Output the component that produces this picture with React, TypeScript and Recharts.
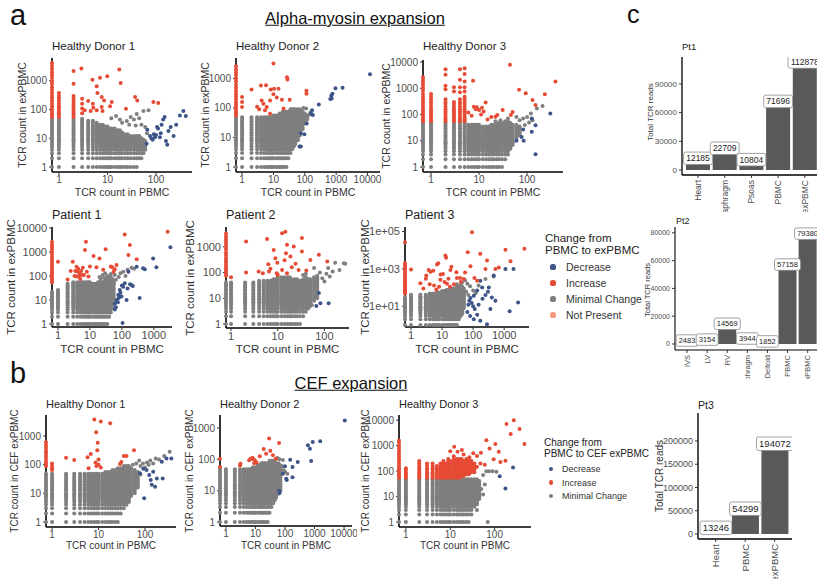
import React from 'react';
import { ScatterChart, Scatter, XAxis, YAxis, BarChart, Bar, LabelList } from 'recharts';

const FONT = '"Liberation Sans", Arimo, Arial, sans-serif';
const RED = '#E64B35';
const BLUE = '#3C5488';
const GREY = '#7F7F7F';
const PINK = '#F39B7F';
const BAR = '#595959';
const TICK = '#4D4D4D';

type Col = [number, number, number]; // x, lowest count, highest count (a stacked column of clones)
type Pt = [number, number]; // x = count in PBMC (0 = absent), y = count in expanded PBMC

// count levels at which clones are stacked in a dense column
const countLevels = [1, 2, 3, 4, 5, 6, 7, 8, 9, 10, 12, 14, 16, 19, 22, 26, 30, 35, 41, 48, 55, 65, 75, 90, 110, 130, 160, 200, 250, 300, 380, 480, 600, 800, 1000, 1300, 1600, 2000, 2600, 3300, 4200, 5500, 7000, 9000, 12000, 16000, 21000, 27000];

// tick values and labels
const ticks3 = [1, 10, 100];
const ticks4 = [1, 10, 100, 1000];
const ticks5 = [1, 10, 100, 1000, 10000];
const labels5 = ['1', '10', '100', '1000', '10000'];
const p3YTicks = [10, 1000, 100000];
const p3YTickLabels = ['1e+01', '1e+03', '1e+05'];

// ---------- a: Alpha-myosin, Healthy Donor 1 ----------
const hd1aGreyCols: Col[] = [[0, 1, 48], [1, 1, 48], [2, 1, 48], [3, 1, 48], [4, 1, 41], [5, 1, 41], [6, 1, 35], [7, 1, 30], [8, 1, 30], [9, 1, 26], [10, 1, 26], [11, 1, 22], [12, 1, 22], [14, 1, 22], [16, 1, 19], [18, 1, 19], [20, 1, 16], [23, 1, 14], [26, 1, 14], [30, 1, 12], [35, 1, 12], [40, 1, 12], [45, 2, 12], [50, 2, 10], [55, 3, 9], [60, 4, 8]];
const hd1aGreyPts: Pt[] = [[20, 35], [25, 40], [30, 55], [35, 45], [40, 70], [45, 50], [55, 90], [70, 95], [28, 30], [18, 45], [15, 60], [12, 50], [38, 28], [60, 25], [50, 30], [65, 15]];
const hd1aRedCols: Col[] = [[0, 55, 4200], [1, 55, 380], [2, 55, 300]];
const hd1aRedPts: Pt[] = [[2, 2200], [2, 800], [2.9, 2700], [3, 240], [3, 160], [3, 110], [3, 75], [3.4, 95], [4.9, 1100], [6, 650], [6.2, 380], [7, 1300], [7.6, 275], [8.5, 210], [9.9, 1450], [5.1, 117], [6, 95], [7.6, 123], [7.9, 90], [11.3, 130], [12.2, 185], [17.5, 2500], [18.7, 850], [24, 108], [37, 275], [41, 210], [88, 185], [111, 170], [4, 200], [5, 160], [4.5, 90]];
const hd1aBluePts: Pt[] = [[66, 20], [64, 6.5], [75, 12], [80, 10], [85, 9], [90, 14], [95, 11], [100, 13], [105, 25], [110, 22], [120, 11], [125, 15], [130, 30], [140, 45], [150, 55], [160, 8], [170, 6], [180, 18], [200, 25], [230, 12], [260, 30], [310, 63], [365, 90], [410, 60]];

// ---------- a: Healthy Donor 2 ----------
const hd2aGreyCols: Col[] = [[0, 1, 48], [1, 1, 48], [2, 1, 48], [3, 1, 48], [4, 1, 48], [5, 1, 48], [6, 1, 48], [7, 1, 48], [8, 1, 48], [9, 1, 48], [10, 1, 55], [12, 1, 55], [14, 1, 55], [16, 1, 65], [18, 1, 65], [20, 1, 75], [23, 1, 75], [26, 1, 75], [30, 2, 75], [35, 3, 90], [40, 4, 90], [45, 5, 90], [50, 6, 90], [60, 8, 90], [70, 12, 90], [85, 19, 75], [100, 30, 65], [120, 41, 55]];
const hd2aGreyPts: Pt[] = [[140, 60], [150, 70], [90, 100], [110, 95]];
const hd2aRedCols: Col[] = [[0, 55, 2600]];
const hd2aRedPts: Pt[] = [[1, 235], [1, 160], [1, 108], [2, 420], [4, 580], [5.8, 590], [8.2, 420], [4.2, 180], [4.8, 140], [6.1, 108], [5.4, 83], [7.8, 180], [10, 290], [10.5, 450], [14.5, 450], [10, 3200], [27, 1100], [28, 910], [12.8, 225], [18.6, 190], [21, 95], [33, 190], [113, 380], [113, 300], [7.8, 64], [3, 110], [3.5, 90]];
const hd2aBluePts: Pt[] = [[12000, 1380], [1600, 480], [950, 460], [760, 300], [700, 260], [720, 210], [650, 200], [280, 130], [170, 83], [160, 64], [180, 58], [115, 30], [97, 13], [75, 14], [68, 5], [75, 5]];

// ---------- a: Healthy Donor 3 ----------
const hd3aGreyCols: Col[] = [[0, 1, 48], [1, 1, 48], [2, 1, 48], [3, 1, 48], [4, 1, 48], [5, 1, 48], [6, 1, 41], [7, 1, 41], [8, 1, 41], [9, 1, 41], [10, 1, 41], [12, 1, 35], [14, 1, 35], [16, 1, 35], [18, 1, 41], [20, 1, 41], [23, 1, 41], [26, 1, 48], [30, 1, 48], [35, 2, 55], [40, 3, 55], [45, 5, 48], [50, 7, 41], [60, 12, 41], [70, 16, 35]];
const hd3aGreyPts: Pt[] = [[83, 70], [100, 80], [120, 110], [160, 170], [210, 210], [60, 80], [70, 60], [90, 40], [110, 50], [130, 60], [28, 60], [22, 55], [40, 70]];
const hd3aRedCols: Col[] = [[0, 55, 2600], [1, 55, 600], [2, 55, 380], [3, 55, 300], [4, 55, 380], [5, 55, 480]];
const hd3aRedPts: Pt[] = [[2, 5300], [2, 3300], [2, 1250], [2, 920], [3, 1100], [3, 750], [4, 5300], [4, 2100], [4, 1100], [4, 700], [5, 5800], [5, 3500], [5, 1800], [5, 1100], [5, 750], [7.5, 1950], [7.8, 200], [8.5, 160], [9, 190], [10, 150], [11.5, 180], [13.7, 290], [12.5, 130], [11, 100], [22, 82], [24, 95], [31, 150], [46, 95], [50, 125], [44, 7800], [68, 870], [94, 650], [130, 360], [150, 230], [235, 590], [390, 1800], [6, 120], [7, 90], [15, 65], [18, 80]];
const hd3aBluePts: Pt[] = [[305, 110], [125, 71], [83, 27], [77, 14], [150, 39], [125, 22], [85, 10], [150, 3.1], [60, 10]];

// ---------- a: Patient 1 ----------
const p1GreyCols: Col[] = [[0, 1, 22], [1, 1, 26], [2, 1, 48], [3, 1, 55], [4, 1, 55], [5, 1, 55], [6, 1, 55], [7, 1, 55], [8, 1, 55], [9, 1, 55], [10, 1, 55], [12, 1, 48], [14, 1, 48], [16, 1, 48], [18, 1, 55], [20, 1, 55], [23, 1, 55], [26, 1, 55], [30, 1, 65], [35, 1, 75], [40, 2, 90], [45, 3, 90], [50, 5, 75], [55, 8, 55]];
const p1GreyPts: Pt[] = [[20, 90], [25, 110], [30, 130], [35, 100], [45, 120], [60, 110], [80, 90], [90, 130], [110, 150], [130, 100], [150, 180], [200, 220], [240, 200], [22, 75], [28, 85], [65, 70], [55, 45]];
const p1RedCols: Col[] = [[0, 55, 3000]];
const p1RedPts: Pt[] = [[1, 390], [2, 72], [2.9, 390], [3.8, 245], [4.3, 200], [4.2, 150], [4.8, 120], [5.3, 160], [6, 220], [5.7, 110], [6.5, 110], [3.5, 160], [3.3, 100], [3.9, 95], [4.5, 95], [7.5, 2700], [7, 1200], [13, 680], [20, 540], [31, 1300], [26, 180], [16, 230], [60, 190], [68, 290], [55, 150], [123, 5400], [178, 1950], [160, 750], [290, 500], [45, 250], [50, 230], [2700, 7000], [8, 150], [10, 250], [9, 95], [5, 75], [2.5, 160]];
const p1BluePts: Pt[] = [[3300, 1560], [950, 540], [1200, 230], [460, 210], [520, 190], [290, 240], [160, 150], [200, 42], [220, 38], [123, 50], [110, 36], [86, 26], [77, 16], [68, 10], [60, 7], [65, 5], [60, 4], [97, 14], [140, 10], [360, 12], [105, 1.1], [75, 8], [80, 12], [90, 20], [150, 30], [180, 45], [100, 40]];

// ---------- a: Patient 2 ----------
const p2GreyCols: Col[] = [[0, 1, 41], [1, 1, 41], [2, 1, 41], [3, 1, 41], [4, 1, 48], [5, 1, 48], [6, 1, 48], [7, 1, 48], [8, 1, 55], [9, 1, 55], [10, 1, 65], [12, 1, 65], [14, 1, 65], [16, 1, 65], [18, 1, 65], [20, 1, 55], [23, 1, 55], [26, 1, 55], [30, 1, 48], [35, 2, 55], [40, 3, 65], [45, 4, 55], [50, 5, 55], [60, 8, 65], [70, 10, 75]];
const p2GreyPts: Pt[] = [[90, 60], [100, 45], [80, 100], [110, 90], [130, 70], [170, 240], [210, 125], [260, 230], [280, 220], [60, 150], [150, 110], [120, 150], [54, 5.5], [40, 90], [35, 80]];
const p2RedCols: Col[] = [[0, 75, 3300]];
const p2RedPts: Pt[] = [[1, 66], [2.1, 1600], [2.1, 100], [3.9, 110], [5.9, 2000], [8.2, 760], [8.9, 360], [9.8, 240], [6.3, 210], [12.4, 3400], [14.6, 3900], [15.8, 1200], [15, 560], [18.7, 420], [22, 1030], [33, 2200], [33, 660], [50, 310], [76, 490], [115, 270], [12.4, 125], [14, 300], [15.8, 95], [24, 220], [28, 125], [7, 140], [9.5, 95], [4.8, 95], [6.5, 110], [20, 160], [41, 120], [10, 80]];
const p2BluePts: Pt[] = [[76, 16], [82, 6.4], [67, 5], [123, 6.4]];

// ---------- a: Patient 3 ----------
const p3GreyCols: Col[] = [[0, 1, 30], [1, 1, 41], [2, 1, 41], [3, 1, 41], [4, 1, 48], [5, 1, 48], [6, 1, 48], [7, 1, 55], [8, 1, 55], [10, 1, 65], [12, 1, 65], [14, 1, 75], [16, 1, 75], [18, 1, 90], [20, 1, 90], [23, 1, 90], [26, 1, 90], [30, 1, 110], [35, 2, 110], [40, 3, 130], [45, 4, 110], [50, 8, 90]];
const p3GreyPts: Pt[] = [[44, 190], [55, 250], [65, 160], [80, 120], [150, 130], [250, 290], [460, 390], [30, 150], [100, 70], [120, 50], [60, 60], [70, 40]];
const p3RedCols: Col[] = [[0, 48, 2000]];
const p3RedPts: Pt[] = [[0, 27000], [1, 920], [2, 170], [3.1, 440], [3.7, 880], [4.2, 700], [5.2, 800], [6.9, 1700], [7.5, 2000], [12.8, 5300], [13.5, 4000], [10.7, 540], [8.8, 260], [4, 150], [5.5, 130], [6.5, 80], [18.6, 880], [20, 1300], [29, 660], [30, 330], [38, 330], [55, 650], [67, 7800], [50, 290], [82, 1400], [92, 91000], [170, 6400], [250, 1000], [280, 2800], [520, 1000], [670, 1200], [1100, 10500], [1600, 2600], [4500, 12000], [14.5, 160], [18, 110], [24, 150], [135, 230], [110, 330], [3, 300], [9, 500], [16, 300], [40, 200], [2.5, 90], [8, 110], [12, 200]];
const p3BluePts: Pt[] = [[1100, 1000], [2000, 1000], [460, 440], [320, 100], [170, 230], [195, 100], [135, 70], [105, 37], [82, 28], [75, 20], [90, 15], [113, 7.2], [135, 3.5], [360, 7.2], [520, 20], [1500, 5.4], [2800, 16], [105, 2], [170, 1.7], [280, 1.1], [70, 12], [100, 10], [150, 12], [200, 25], [250, 40], [300, 60], [400, 30], [65, 5], [80, 3]];

// ---------- b: CEF, Healthy Donor 1 ----------
const hd1bGreyCols: Col[] = [[0, 1, 48], [1, 1, 48], [2, 1, 48], [3, 1, 48], [4, 1, 48], [5, 1, 48], [6, 1, 48], [7, 1, 48], [8, 1, 48], [9, 1, 48], [10, 1, 48], [12, 1, 48], [14, 1, 55], [16, 1, 55], [18, 1, 55], [20, 1, 65], [23, 1, 65], [26, 1, 75], [30, 2, 75], [35, 3, 90], [40, 4, 90], [45, 5, 90], [50, 8, 75], [60, 10, 65], [70, 16, 55]];
const hd1bGreyPts: Pt[] = [[80, 90], [100, 80], [120, 100], [150, 110], [200, 150], [260, 200], [340, 280], [90, 110], [65, 110], [75, 140], [130, 140], [170, 165], [55, 100], [110, 120], [60, 35], [80, 45]];
const hd1bRedCols: Col[] = [[0, 90, 600], [1, 65, 110]];
const hd1bRedPts: Pt[] = [[2, 175], [3, 145], [5.8, 180], [6.8, 235], [6.1, 75], [8.1, 3800], [8.9, 1350], [9.6, 580], [11.2, 3200], [17.8, 2800], [8.6, 120], [9.4, 320], [9, 90], [10, 100], [11.2, 80], [10, 150], [31, 125], [35, 200], [40, 200], [58, 320], [29, 105]];
const hd1bBluePts: Pt[] = [[92, 72], [108, 65], [123, 44], [150, 57], [133, 29], [140, 20], [96, 6.7], [180, 33], [230, 127], [290, 165], [370, 165], [240, 33], [165, 17], [78, 50]];

// ---------- b: Healthy Donor 2 ----------
const hd2bGreyCols: Col[] = [[0, 1, 48], [1, 1, 48], [2, 1, 48], [3, 1, 48], [4, 1, 48], [5, 1, 48], [6, 1, 48], [7, 1, 48], [8, 1, 55], [9, 1, 55], [10, 1, 55], [12, 1, 65], [14, 1, 65], [16, 1, 75], [18, 1, 75], [20, 1, 75], [23, 1, 75], [26, 1, 75], [30, 2, 90], [35, 3, 90], [40, 4, 90], [45, 5, 90], [50, 6, 75], [60, 8, 75], [70, 10, 65]];
const hd2bGreyPts: Pt[] = [[80, 60], [90, 45], [100, 40], [120, 35], [85, 95], [65, 100], [55, 110]];
const hd2bRedCols: Col[] = [];
const hd2bRedPts: Pt[] = [[0, 105], [0, 57], [3, 64], [3.1, 72], [6.1, 93], [6.8, 105], [7.9, 113], [9.5, 93], [9, 75], [11, 80], [14, 125], [23, 150], [29, 460], [32, 190], [63, 330], [39, 135], [49, 105], [19, 215], [8.5, 100]];
const hd2bBluePts: Pt[] = [[10600, 1750], [1560, 380], [870, 360], [600, 280], [700, 220], [770, 88], [270, 82], [180, 57], [150, 98], [180, 27], [85, 35], [110, 24], [115, 22], [66, 8.4], [64, 10], [100, 60]];

// ---------- b: Healthy Donor 3 ----------
const hd3bGreyCols: Col[] = [[0, 1, 48], [1, 1, 48], [2, 1, 48], [3, 1, 48], [4, 1, 48], [5, 1, 48], [6, 1, 48], [7, 1, 48], [8, 1, 48], [9, 1, 48], [10, 1, 48], [12, 1, 48], [14, 1, 48], [16, 1, 48], [18, 1, 48], [20, 1, 48], [23, 1, 48], [26, 1, 48], [30, 2, 48], [35, 4, 48], [40, 5, 48], [45, 8, 41]];
const hd3bGreyPts: Pt[] = [[55, 70], [65, 100], [75, 100], [90, 100], [110, 95], [60, 30], [50, 20], [55, 12], [40, 3], [70, 1]];
const hd3bRedCols: Col[] = [[0, 55, 1600], [1, 55, 130], [2, 55, 250], [3, 55, 200], [4, 55, 200], [5, 55, 160], [6, 55, 200], [7, 55, 250], [8, 55, 200], [9, 55, 300], [10, 55, 250], [12, 55, 380], [14, 55, 300], [16, 55, 300], [18, 65, 300], [20, 65, 250], [23, 75, 300], [26, 75, 300], [30, 90, 250], [35, 90, 200]];
const hd3bRedPts: Pt[] = [[12.3, 900], [14.6, 580], [18.3, 670], [27, 350], [33, 500], [40, 390], [49, 530], [65, 1650], [77, 780], [104, 1150], [124, 580], [135, 230], [185, 7100], [270, 10000], [230, 2900], [365, 4500], [470, 1150], [175, 255], [95, 290], [48, 200], [40, 150], [60, 180], [10, 600], [20, 450]];
const hd3bBluePts: Pt[] = [[260, 140], [130, 63], [175, 21]];

// ---------- c: total TCR reads ----------
const pt1Names = ['Heart', 'Diaphragm', 'Psoas', 'PBMC', 'exPBMC'];
const pt1Values = [12185, 22709, 10804, 71696, 112878];
const pt2Names = ['IVS', 'LV', 'RV', 'Diaphragm', 'Deltoid', 'PBMC', 'exPBMC'];
const pt2Values = [2483, 3154, 14569, 3944, 1852, 57158, 79380];
const pt3Names = ['Heart', 'PBMC', 'exPBMC'];
const pt3Values = [13246, 54299, 194072];
const pt1Ticks = [0, 30000, 60000, 90000];
const pt2Ticks = [0, 20000, 40000, 60000, 80000];
const pt3Ticks = [0, 50000, 100000, 150000, 200000];

// ---------- helpers ----------
function expand(cols: Col[], xMin: number) {
  const out: { x: number; y: number }[] = [];
  for (const [x, lo, hi] of cols) {
    for (const y of countLevels) if (y >= lo && y <= hi) out.push({ x: x === 0 ? xMin : x, y });
  }
  return out;
}
function toPts(p: Pt[], xMin: number) {
  return p.map(([x, y]) => ({ x: x === 0 ? xMin : x, y }));
}

const dot = (color: string) => (props: any) =>
  props.cx == null ? <g /> : <circle cx={props.cx} cy={props.cy} r={2.0} fill={color} />;

type Panel = {
  title: string; L: number; T: number; R: number; B: number;
  xDomain: [number, number]; yDomain: [number, number];
  xTicks: number[]; xTickLabels: string[]; yTicks: number[]; yTickLabels: string[];
  yLabel: string; titleY: number; xLabelY: number; yLabelX: number;
  tickFs: number; titleFs: number; labelFs: number;
  greyCols: Col[]; greyPts: Pt[]; redCols: Col[]; redPts: Pt[]; bluePts: Pt[];
};

const lbl = (t: number[]) => t.map(String);

const panels: Panel[] = [
  { title: 'Healthy Donor 1', L: 52, T: 58, R: 192, B: 172, xDomain: [0.72, 550], yDomain: [0.67, 6300], xTicks: ticks3, xTickLabels: lbl(ticks3), yTicks: ticks4, yTickLabels: lbl(ticks4), yLabel: 'TCR count in exPBMC', titleY: 47, xLabelY: 192, yLabelX: 22, tickFs: 10, titleFs: 11.5, labelFs: 10.5, greyCols: hd1aGreyCols, greyPts: hd1aGreyPts, redCols: hd1aRedCols, redPts: hd1aRedPts, bluePts: hd1aBluePts },
  { title: 'Healthy Donor 2', L: 236, T: 58, R: 380, B: 172, xDomain: [0.64, 25000], yDomain: [0.68, 4900], xTicks: ticks5, xTickLabels: labels5, yTicks: ticks4, yTickLabels: lbl(ticks4), yLabel: 'TCR count in exPBMC', titleY: 47, xLabelY: 192, yLabelX: 205, tickFs: 10, titleFs: 11.5, labelFs: 10.5, greyCols: hd2aGreyCols, greyPts: hd2aGreyPts, redCols: hd2aRedCols, redPts: hd2aRedPts, bluePts: hd2aBluePts },
  { title: 'Healthy Donor 3', L: 423, T: 60, R: 563, B: 172, xDomain: [0.68, 560], yDomain: [0.65, 11900], xTicks: ticks3, xTickLabels: lbl(ticks3), yTicks: ticks5, yTickLabels: labels5, yLabel: 'TCR count in exPBMC', titleY: 47, xLabelY: 192, yLabelX: 386, tickFs: 10, titleFs: 11.5, labelFs: 10.5, greyCols: hd3aGreyCols, greyPts: hd3aGreyPts, redCols: hd3aRedCols, redPts: hd3aRedPts, bluePts: hd3aBluePts },
  { title: 'Patient 1', L: 52, T: 227, R: 172, B: 327, xDomain: [0.65, 3700], yDomain: [0.75, 11000], xTicks: ticks4, xTickLabels: lbl(ticks4), yTicks: ticks5, yTickLabels: labels5, yLabel: 'TCR count in exPBMC', titleY: 215, xLabelY: 350, yLabelX: 12, tickFs: 11, titleFs: 12.5, labelFs: 11.5, greyCols: p1GreyCols, greyPts: p1GreyPts, redCols: p1RedCols, redPts: p1RedPts, bluePts: p1BluePts },
  { title: 'Patient 2', L: 226, T: 227, R: 349, B: 328, xDomain: [0.78, 336], yDomain: [0.7, 5900], xTicks: ticks3, xTickLabels: lbl(ticks3), yTicks: ticks4, yTickLabels: lbl(ticks4), yLabel: 'TCR count in exPBMC', titleY: 215, xLabelY: 350, yLabelX: 191, tickFs: 11, titleFs: 12.5, labelFs: 11.5, greyCols: p2GreyCols, greyPts: p2GreyPts, redCols: p2RedCols, redPts: p2RedPts, bluePts: p2BluePts },
  { title: 'Patient 3', L: 405, T: 227, R: 529, B: 327, xDomain: [0.64, 6300], yDomain: [0.78, 175000], xTicks: ticks4, xTickLabels: lbl(ticks4), yTicks: p3YTicks, yTickLabels: p3YTickLabels, yLabel: 'TCR count in exPBMC', titleY: 215, xLabelY: 350, yLabelX: 366, tickFs: 11, titleFs: 12.5, labelFs: 11.5, greyCols: p3GreyCols, greyPts: p3GreyPts, redCols: p3RedCols, redPts: p3RedPts, bluePts: p3BluePts },
  { title: 'Healthy Donor 1', L: 46, T: 415, R: 176, B: 527, xDomain: [0.74, 465], yDomain: [0.67, 5400], xTicks: ticks3, xTickLabels: lbl(ticks3), yTicks: ticks4, yTickLabels: lbl(ticks4), yLabel: 'TCR count in CEF exPBMC', titleY: 404, xLabelY: 546, yLabelX: 15, tickFs: 10, titleFs: 11, labelFs: 10, greyCols: hd1bGreyCols, greyPts: hd1bGreyPts, redCols: hd1bRedCols, redPts: hd1bRedPts, bluePts: hd1bBluePts },
  { title: 'Healthy Donor 2', L: 220, T: 415, R: 352, B: 526, xDomain: [0.63, 18600], yDomain: [0.75, 2600], xTicks: ticks5, xTickLabels: labels5, yTicks: ticks4, yTickLabels: lbl(ticks4), yLabel: 'TCR count in CEF exPBMC', titleY: 404, xLabelY: 546, yLabelX: 190, tickFs: 10, titleFs: 11, labelFs: 10, greyCols: hd2bGreyCols, greyPts: hd2bGreyPts, redCols: hd2bRedCols, redPts: hd2bRedPts, bluePts: hd2bBluePts },
  { title: 'Healthy Donor 3', L: 399, T: 415, R: 531, B: 527, xDomain: [0.7, 660], yDomain: [0.64, 16000], xTicks: ticks3, xTickLabels: lbl(ticks3), yTicks: ticks5, yTickLabels: labels5, yLabel: 'TCR count in CEF exPBMC', titleY: 404, xLabelY: 546, yLabelX: 366, tickFs: 10, titleFs: 11, labelFs: 10, greyCols: hd3bGreyCols, greyPts: hd3bGreyPts, redCols: hd3bRedCols, redPts: hd3bRedPts, bluePts: hd3bBluePts },
];

function Txt({ x, y, fs, children, anchor = 'left', rotate = false, color = '#222', style = {} }: any) {
  const tx = anchor === 'center' ? '-50%' : '0';
  return (
    <div style={{ position: 'absolute', left: x, top: y, fontSize: fs, lineHeight: 1, whiteSpace: 'nowrap', color, fontFamily: FONT,
      transform: rotate ? 'translate(-50%,-50%) rotate(-90deg)' : `translate(${tx},-50%)`, ...style }}>{children}</div>
  );
}

function LogScatter({ p }: { p: Panel }) {
  const yw = 46, xh = 24, pad = 5;
  const w = p.R - p.L, h = p.B - p.T;
  const x0 = p.xDomain[0];
  const grey = [...expand(p.greyCols, x0), ...toPts(p.greyPts, x0)];
  const red = [...expand(p.redCols, x0), ...toPts(p.redPts, x0)];
  const blue = toPts(p.bluePts, x0);
  const fmtX = (v: number) => p.xTickLabels[p.xTicks.indexOf(v)] ?? String(v);
  const fmtY = (v: number) => p.yTickLabels[p.yTicks.indexOf(v)] ?? String(v);
  const tickStyle = { fontSize: p.tickFs, fill: TICK, fontFamily: FONT };
  const axisLine = { stroke: '#000', strokeWidth: 1.6 };
  return (
    <>
      <div style={{ position: 'absolute', left: p.L - yw, top: p.T - pad }}>
        <ScatterChart width={yw + w + pad} height={pad + h + xh} margin={{ top: pad, right: pad, bottom: 0, left: 0 }}>
          <XAxis type="number" dataKey="x" scale="log" domain={p.xDomain} ticks={p.xTicks} interval={0} tickFormatter={fmtX}
            height={xh} tick={tickStyle} tickSize={3} tickMargin={1} axisLine={axisLine} tickLine={{ stroke: '#333' }} />
          <YAxis type="number" dataKey="y" scale="log" domain={p.yDomain} ticks={p.yTicks} interval={0} tickFormatter={fmtY}
            width={yw} tick={tickStyle} tickSize={3} tickMargin={2} axisLine={axisLine} tickLine={{ stroke: '#333' }} />
          <Scatter data={grey} shape={dot(GREY)} isAnimationActive={false} />
          <Scatter data={blue} shape={dot(BLUE)} isAnimationActive={false} />
          <Scatter data={red} shape={dot(RED)} isAnimationActive={false} />
        </ScatterChart>
      </div>
      <Txt x={p.L} y={p.titleY} fs={p.titleFs}>{p.title}</Txt>
      <Txt x={(p.L + p.R) / 2} y={p.xLabelY} fs={p.labelFs} anchor="center" color="#333">TCR count in PBMC</Txt>
      <Txt x={p.yLabelX} y={(p.T + p.B) / 2} fs={p.labelFs} rotate color="#333">{p.yLabel}</Txt>
    </>
  );
}

type BarPanel = {
  title: string; names: string[]; values: number[]; L: number; T: number; B: number; spacing: number;
  yDomain: [number, number]; yTicks: number[]; yFs: number; xFs: number; labelFs: number; titleFs: number;
  clipTop: number; clipBottom: number; titleY: number; titleX: number; yLabelX: number; yLabelY: number; yLabelFs: number; axisW: number;
};

const barPanels: BarPanel[] = [
  { title: 'Pt1', names: pt1Names, values: pt1Values, L: 682, T: 57, B: 175, spacing: 26.7, yDomain: [-5226, 118100], yTicks: pt1Ticks, yFs: 8, xFs: 8.5, labelFs: 8.5, titleFs: 9.5, clipTop: 28, clipBottom: 212, titleY: 47, titleX: 682, yLabelX: 651, yLabelY: 112, yLabelFs: 8, axisW: 1.3 },
  { title: 'Pt2', names: pt2Names, values: pt2Values, L: 675, T: 227, B: 350, spacing: 20.1, yDomain: [-4317, 84170], yTicks: pt2Ticks, yFs: 7, xFs: 7.5, labelFs: 7.5, titleFs: 9, clipTop: 212, clipBottom: 379, titleY: 221, titleX: 676, yLabelX: 648, yLabelY: 290, yLabelFs: 7.5, axisW: 1.1 },
  { title: 'Pt3', names: pt3Names, values: pt3Values, L: 698, T: 413, B: 539, spacing: 29.5, yDomain: [-10750, 260200], yTicks: pt3Ticks, yFs: 9, xFs: 9.5, labelFs: 9.5, titleFs: 10.5, clipTop: 379, clipBottom: 579, titleY: 405, titleX: 698, yLabelX: 660, yLabelY: 476, yLabelFs: 10, axisW: 1.4 },
];

function renderValueLabel(lp: any, fs: number) {
  const { x, y, width, value } = lp;
  if (x == null || y == null) return null;
  const cx = Number(x) + Number(width) / 2;
  const cy = Number(y);
  const tw = String(value).length * fs * 0.56;
  const bw = tw + 5, bh = fs + 4;
  return (
    <g>
      <rect x={cx - bw / 2} y={cy - bh / 2} width={bw} height={bh} rx={2} fill="#fff" stroke="#8a8a8a" strokeWidth={0.8} />
      <text x={cx} y={cy} textAnchor="middle" dominantBaseline="central" fontSize={fs} fill="#222" fontFamily={FONT}>{value}</text>
    </g>
  );
}

function TcrBars({ b }: { b: BarPanel }) {
  const yw = 46, xh = 70;
  const w = b.spacing * (b.names.length + 0.2);
  const h = b.B - b.T;
  const data = b.names.map((name, i) => ({ name, value: b.values[i] }));
  const ox = 640;
  const rotTick = (tp: any) => (
    <text x={tp.x} y={tp.y} transform={`rotate(-90 ${tp.x} ${tp.y})`} textAnchor="end" dominantBaseline="central"
      fontSize={b.xFs} fill={TICK} fontFamily={FONT}>{tp.payload.value}</text>
  );
  const axisLine = { stroke: '#000', strokeWidth: b.axisW };
  return (
    <div style={{ position: 'absolute', left: ox, top: b.clipTop, width: 817 - ox, height: b.clipBottom - b.clipTop, overflow: 'hidden' }}>
      <div style={{ position: 'absolute', left: b.L - yw - ox, top: b.T - b.clipTop }}>
        <BarChart width={yw + w} height={h + xh} data={data} margin={{ top: 0, right: 0, bottom: 0, left: 0 }} barCategoryGap="5%">
          <XAxis dataKey="name" type="category" interval={0} height={xh} padding={{ left: b.spacing * 0.1, right: b.spacing * 0.1 }}
            tick={rotTick} tickSize={3} tickMargin={2} axisLine={axisLine} tickLine={{ stroke: '#333' }} />
          <YAxis type="number" domain={b.yDomain} ticks={b.yTicks} interval={0} width={yw}
            tick={{ fontSize: b.yFs, fill: TICK, fontFamily: FONT }} tickSize={3} tickMargin={2} axisLine={axisLine} tickLine={{ stroke: '#333' }} />
          <Bar dataKey="value" fill={BAR} isAnimationActive={false}>
            <LabelList dataKey="value" content={(lp: any) => renderValueLabel(lp, b.labelFs)} />
          </Bar>
        </BarChart>
      </div>
      <Txt x={b.titleX - ox} y={b.titleY - b.clipTop} fs={b.titleFs}>{b.title}</Txt>
      <Txt x={b.yLabelX - ox} y={b.yLabelY - b.clipTop} fs={b.yLabelFs} rotate color="#333">Total TCR reads</Txt>
    </div>
  );
}

function LegendDot({ x, y, color, r = 2.6 }: any) {
  return <div style={{ position: 'absolute', left: x - r, top: y - r, width: 2 * r, height: 2 * r, borderRadius: '50%', background: color }} />;
}

const legendA = [['Decrease', BLUE], ['Increase', RED], ['Minimal Change', GREY], ['Not Present', PINK]];
const legendB = [['Decrease', BLUE], ['Increase', RED], ['Minimal Change', GREY]];

export default function App() {
  return (
    <div style={{ position: 'absolute', left: 0, top: 0, width: 817, height: 579, overflow: 'hidden', background: '#fff', fontFamily: FONT }}>
      <Txt x={10} y={15} fs={29} color="#111">a</Txt>
      <Txt x={10} y={373} fs={29} color="#111">b</Txt>
      <Txt x={627} y={14} fs={25} color="#111">c</Txt>
      <Txt x={355} y={18} fs={16.5} anchor="center" color="#111" style={{ textDecoration: 'underline' }}>Alpha-myosin expansion</Txt>
      <Txt x={351} y={383} fs={16.5} anchor="center" color="#111" style={{ textDecoration: 'underline' }}>CEF expansion</Txt>

      {panels.map((p, i) => <LogScatter key={i} p={p} />)}

      <Txt x={545} y={239} fs={11.5}>Change from</Txt>
      <Txt x={545} y={251} fs={11.5}>PBMC to exPBMC</Txt>
      {legendA.map(([name, c], i) => (
        <React.Fragment key={name}>
          <LegendDot x={553} y={267 + i * 16} color={c} />
          <Txt x={566} y={267 + i * 16} fs={10.5} color="#333">{name}</Txt>
        </React.Fragment>
      ))}

      <Txt x={544} y={443} fs={10}>Change from</Txt>
      <Txt x={544} y={454} fs={10}>PBMC to CEF exPBMC</Txt>
      {legendB.map(([name, c], i) => (
        <React.Fragment key={name}>
          <LegendDot x={551} y={469 + i * 13.5} color={c} r={2.3} />
          <Txt x={562} y={469 + i * 13.5} fs={9} color="#333">{name}</Txt>
        </React.Fragment>
      ))}

      {barPanels.map((b, i) => <TcrBars key={i} b={b} />)}
    </div>
  );
}
